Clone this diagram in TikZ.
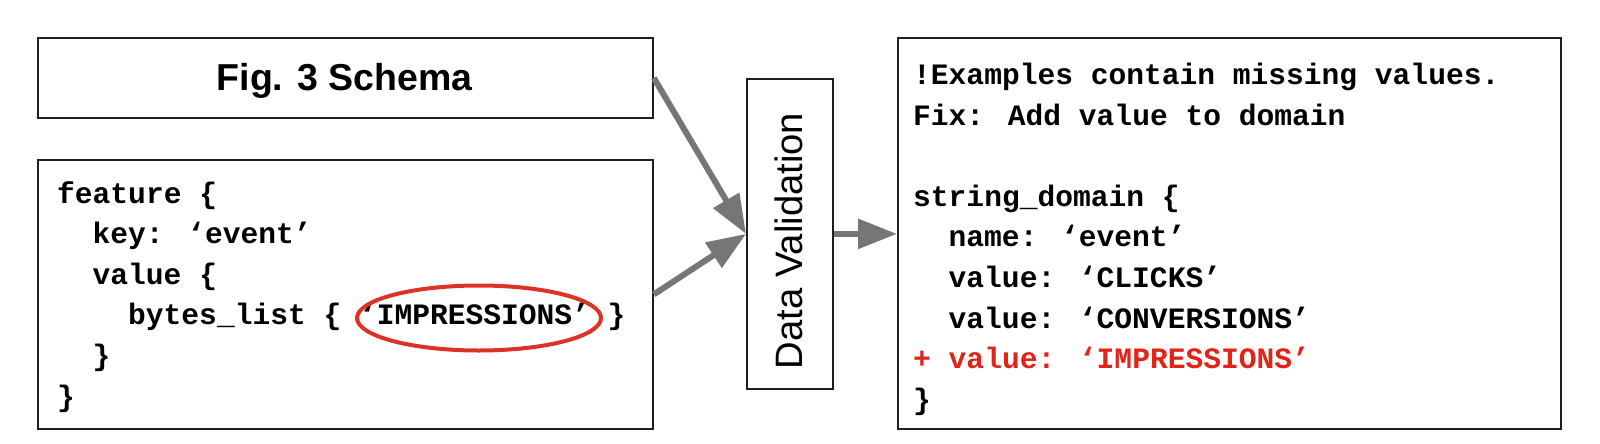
\documentclass[tikz,border=0pt]{standalone}
\usepackage{fontspec}
\setmainfont{Liberation Sans}
\newfontfamily\codefont{Liberation Mono}
\usetikzlibrary{arrows.meta,shapes.geometric}
\definecolor{arrowgray}{RGB}{118,118,118}
\definecolor{codered}{RGB}{226,35,26}
\definecolor{ringred}{RGB}{222,50,38}
\definecolor{boxline}{RGB}{30,30,30}
\tikzset{
  box/.style={draw=boxline, line width=1.8pt, rectangle, inner sep=0pt, anchor=north west},
  codeline/.style={anchor=base west, inner sep=0pt, font=\codefont\bfseries\fontsize{29.6}{40}\selectfont},
  flow/.style={draw=arrowgray, line width=6pt, -{Triangle[length=39pt,width=29pt]}},
  ring/.style={draw=ringred, line width=4pt, ellipse, inner sep=0pt},
}
\begin{document}
\begin{tikzpicture}[x=1pt,y=-1pt]
\useasboundingbox (0,0) rectangle (1600,444);
% boxes
\node[box, minimum width=615pt, minimum height=80pt] (schema) at (37,37) {};
\node[box, minimum width=615pt, minimum height=269pt] (code) at (37,159) {};
\node[box, minimum width=86pt, minimum height=310pt] (dv) at (746,78) {};
\node[box, minimum width=663pt, minimum height=391pt] (out) at (897,37) {};
% titles
\node[anchor=base, inner sep=0pt, font=\bfseries\fontsize{37.5}{40}\selectfont] (schematxt) at (344.5,90) {Fig. 3 Schema};
\node[anchor=base, inner sep=0pt, rotate=90, font=\fontsize{38.2}{40}\selectfont] (dvtxt) at (802.5,241) {Data Validation};
% left code
\node[codeline] (l1) at (57,203) {feature \{};
\node[codeline] (l2) at (92.5,243.6) {key: ‘event’};
\node[codeline] (l3) at (92.5,284.2) {value \{};
\node[codeline] (l4) at (128,324.8) {bytes\_list \{ ‘IMPRESSIONS’ \}};
\node[codeline] (l5) at (92.5,365.4) {\}};
\node[codeline] (l6) at (57,406) {\}};
\node[ring, minimum width=244pt, minimum height=65pt] (circ) at (479,318) {};
% right code
\node[codeline] (r1) at (913,84.5) {!Examples contain missing values.};
\node[codeline] (r2) at (913,125.1) {Fix: Add value to domain};
\node[codeline] (r4) at (913,206.3) {string\_domain \{};
\node[codeline] (r5) at (948.5,246.9) {name: ‘event’};
\node[codeline] (r6) at (948.5,287.5) {value: ‘CLICKS’};
\node[codeline] (r7) at (948.5,328.1) {value: ‘CONVERSIONS’};
\node[codeline, text=codered] (r8) at (913,368.7) {+ value: ‘IMPRESSIONS’};
\node[codeline] (r9) at (913,409.3) {\}};
% connectors
\draw[flow] (schema.east) -- (dv.west);
\draw[flow] (code.east) -- (dv.west);
\draw[flow] (dv.east) -- (dv.east -| out.west);
\end{tikzpicture}
\end{document}
